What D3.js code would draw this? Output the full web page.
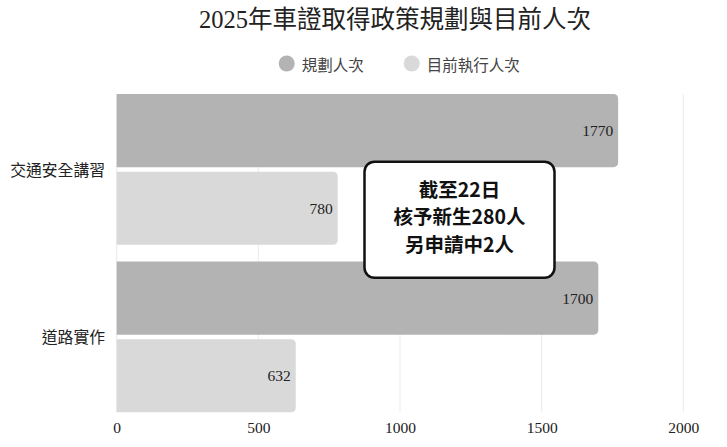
<!DOCTYPE html>
<html>
<head>
<meta charset="utf-8">
<script src="https://cdn.jsdelivr.net/npm/d3@7"></script>
<style>
  html, body { margin: 0; padding: 0; background: #fff; }
  svg { display: block; }
</style>
</head>
<body>
<svg id="chart" width="727" height="447"></svg>
<script>
const title = "2025年車證取得政策規劃與目前人次";
const categories = ["交通安全講習", "道路實作"];
const seriesNames = ["規劃人次", "目前執行人次"];
const plannedValues = [1770, 1700];
const currentValues = [780, 632];
const tickValues = [0, 500, 1000, 1500, 2000];
const noteLines = ["截至22日", "核予新生280人", "另申請中2人"];
const seriesColors = ["#b3b3b3", "#d9d9d9"];

const W = 727, H = 447;
const margin = { left: 116.7, right: 43.7, top: 94, bottom: 34.7 };
const plotW = W - margin.left - margin.right;
const plotH = H - margin.top - margin.bottom;

const svg = d3.select("#chart");
const serif = "'Liberation Serif', 'Times New Roman', 'Noto Sans CJK TC', serif";
const sans = "'Noto Sans CJK TC', 'Noto Sans', sans-serif";

const data = categories.map((c, i) => ({
  category: c,
  values: [
    { key: seriesNames[0], value: plannedValues[i] },
    { key: seriesNames[1], value: currentValues[i] }
  ]
}));

const x = d3.scaleLinear().domain([0, 2000]).range([0, plotW]);
const y0 = d3.scaleBand().domain(categories).range([0, plotH]).paddingInner(0.1).paddingOuter(0);
const y1 = d3.scaleBand().domain(seriesNames).range([0, y0.bandwidth()]).paddingInner(0.058).paddingOuter(0);
const color = d3.scaleOrdinal().domain(seriesNames).range(seriesColors);

// Title
svg.append("text")
  .attr("x", margin.left + plotW / 2 - 5)
  .attr("y", 28)
  .attr("text-anchor", "middle")
  .attr("font-family", serif)
  .attr("font-size", 24.5)
  .attr("fill", "#222")
  .text(title);

// Legend
const legendX = [286.7, 411.7];
const legend = svg.append("g");
seriesNames.forEach((s, i) => {
  legend.append("circle")
    .attr("cx", legendX[i]).attr("cy", 63.5).attr("r", 8)
    .attr("fill", color(s));
  legend.append("text")
    .attr("x", legendX[i] + 15).attr("y", 63.5)
    .attr("dominant-baseline", "central")
    .attr("font-family", sans)
    .attr("font-size", 15.5)
    .attr("fill", "#444")
    .text(s);
});

const g = svg.append("g").attr("transform", `translate(${margin.left},${margin.top})`);

// Gridlines
g.append("g")
  .selectAll("line")
  .data(tickValues)
  .join("line")
  .attr("x1", d => x(d)).attr("x2", d => x(d))
  .attr("y1", 0).attr("y2", plotH)
  .attr("stroke", "#ebebeb")
  .attr("stroke-width", 1);

// X axis tick labels
const xAxis = d3.axisBottom(x).tickValues(tickValues).tickSize(0).tickPadding(0).tickFormat(d3.format("d"));
const xa = g.append("g").attr("transform", `translate(0,${plotH})`).call(xAxis);
xa.select(".domain").remove();
xa.selectAll("text")
  .attr("y", 15)
  .attr("dy", null)
  .attr("dominant-baseline", "central")
  .attr("font-family", serif)
  .attr("font-size", 15.5)
  .attr("fill", "#222");

// Y axis labels
const yAxis = d3.axisLeft(y0).tickSize(0).tickPadding(11.7);
const ya = g.append("g").call(yAxis);
ya.select(".domain").remove();
ya.selectAll("text")
  .attr("dy", null)
  .attr("dominant-baseline", "central")
  .attr("font-family", sans)
  .attr("font-size", 15.8)
  .attr("fill", "#222");

// Bars with rounded right corners
function barPath(w, h, r) {
  r = Math.min(r, w, h / 2);
  return `M0,0 H${w - r} A${r},${r} 0 0 1 ${w},${r} V${h - r} A${r},${r} 0 0 1 ${w - r},${h} H0 Z`;
}

const groups = g.selectAll(".grp")
  .data(data)
  .join("g")
  .attr("class", "grp")
  .attr("transform", d => `translate(0,${y0(d.category)})`);

groups.selectAll("path")
  .data(d => d.values)
  .join("path")
  .attr("transform", d => `translate(0,${y1(d.key)})`)
  .attr("d", d => barPath(x(d.value), y1.bandwidth(), 4.5))
  .attr("fill", d => color(d.key));

groups.selectAll("text.val")
  .data(d => d.values)
  .join("text")
  .attr("class", "val")
  .attr("x", d => x(d.value) - 5)
  .attr("y", d => y1(d.key) + y1.bandwidth() / 2)
  .attr("text-anchor", "end")
  .attr("dominant-baseline", "central")
  .attr("font-family", serif)
  .attr("font-size", 15.5)
  .attr("fill", "#222")
  .text(d => d.value);

// Annotation box
const note = svg.append("g");
note.append("rect")
  .attr("x", 364.5).attr("y", 161.8)
  .attr("width", 190).attr("height", 116)
  .attr("rx", 10).attr("ry", 10)
  .attr("fill", "#fff")
  .attr("stroke", "#111")
  .attr("stroke-width", 2.5);
noteLines.forEach((t, i) => {
  note.append("text")
    .attr("x", 459.5)
    .attr("y", 188 + i * 27.5)
    .attr("text-anchor", "middle")
    .attr("dominant-baseline", "central")
    .attr("font-family", sans)
    .attr("font-weight", 700)
    .attr("font-size", 19.5)
    .attr("fill", "#111")
    .text(t);
});
</script>
</body>
</html>
